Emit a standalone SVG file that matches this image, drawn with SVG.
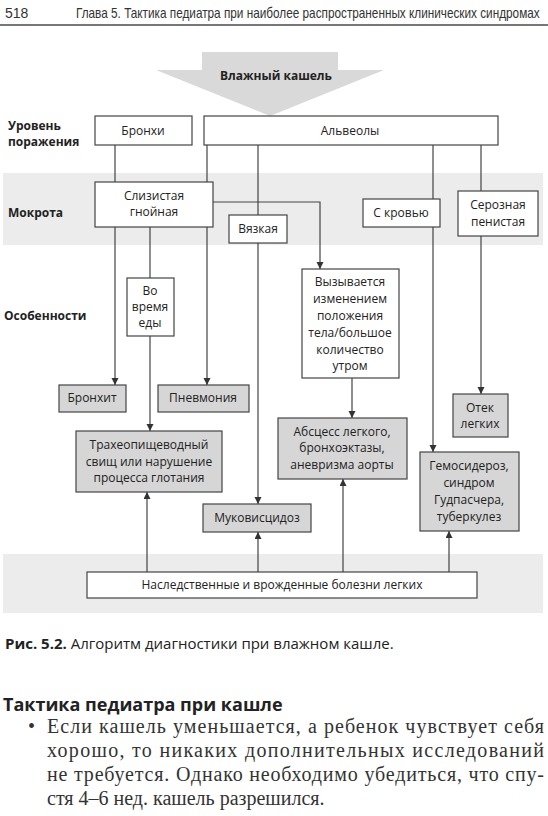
<svg xmlns="http://www.w3.org/2000/svg" width="548" height="816" viewBox="0 0 548 816">
<defs>
<marker id="ah" markerUnits="userSpaceOnUse" markerWidth="8" markerHeight="8" refX="7" refY="3.5" orient="auto">
<path d="M0,0 L7,3.5 L0,7 z" fill="#333"/>
</marker>
<style>
.box{fill:#fff;stroke:#444;stroke-width:1.2}
.gbox{fill:#d6d6d6;stroke:#444;stroke-width:1.2}
.band{fill:#ececec}
.t{font-family:"Open Sans","Liberation Sans",sans-serif;font-size:12px;fill:#222;text-anchor:middle}
.lbl{font-family:"Open Sans","Liberation Sans",sans-serif;font-size:12px;font-weight:bold;fill:#222}
.ln{stroke:#444;stroke-width:1.2;fill:none}
.ar{stroke:#444;stroke-width:1.2;fill:none;marker-end:url(#ah)}
</style>
</defs>
<rect width="548" height="816" fill="#fff"/>

<!-- header -->
<text x="5" y="18" font-family="Liberation Sans, sans-serif" font-size="14" fill="#333">518</text>
<text transform="translate(76,18) scale(0.84,1)" x="0" y="0" font-family="Liberation Sans, sans-serif" font-size="14" fill="#333" textLength="552" lengthAdjust="spacingAndGlyphs">Глава 5. Тактика педиатра при наиболее распространенных клинических синдромах</text>
<line x1="0" y1="25" x2="548" y2="25" stroke="#777" stroke-width="1.8"/>

<!-- bands -->
<rect class="band" x="3" y="173" width="540" height="72"/>
<rect class="band" x="3" y="554" width="540" height="59"/>

<!-- big arrow -->
<g id="start">
<polygon points="202,52 338,52 338,70 384,70 270,116 156,70 202,70" fill="#d9d9d9"/>
<text x="276" y="80" class="lbl" text-anchor="middle">Влажный кашель</text>
</g>

<!-- row labels -->
<g id="labels">
<text class="lbl" x="8" y="130">Уровень</text>
<text class="lbl" x="8" y="146">поражения</text>
<text class="lbl" x="8" y="217">Мокрота</text>
<text class="lbl" x="4" y="320">Особенности</text>
</g>

<!-- connectors -->
<g id="connectors">
<line class="ln" x1="115" y1="145" x2="115" y2="182"/>
<line class="ar" x1="115" y1="227" x2="115" y2="385"/>
<line class="ln" x1="150" y1="227" x2="150" y2="278"/>
<line class="ar" x1="150" y1="336" x2="150" y2="431"/>
<line class="ar" x1="207" y1="145" x2="207" y2="385"/>
<line class="ar" x1="258" y1="145" x2="258" y2="504"/>
<polyline class="ar" points="213,202 320,202 320,269"/>
<line class="ar" x1="352" y1="378" x2="352" y2="418"/>
<line class="ar" x1="433" y1="145" x2="433" y2="452"/>
<line class="ar" x1="481" y1="145" x2="481" y2="394"/>
<line class="ar" x1="147" y1="572" x2="147" y2="492"/>
<line class="ar" x1="258" y1="572" x2="258" y2="532"/>
<line class="ar" x1="343" y1="572" x2="343" y2="479"/>
<line class="ar" x1="449" y1="572" x2="449" y2="531"/>
</g>

<!-- nodes -->
<g id="bronchi"><rect class="box" x="95" y="116" width="97" height="29"/><text class="t" x="143" y="135">Бронхи</text></g>
<g id="alveoli"><rect class="box" x="204" y="116" width="294" height="29"/><text class="t" x="350" y="135">Альвеолы</text></g>
<g id="mucopurulent"><rect class="box" x="95" y="182" width="118" height="45"/><text class="t" x="154" y="200">Слизистая</text><text class="t" x="154" y="216">гнойная</text></g>
<g id="viscous"><rect class="box" x="229" y="215" width="58" height="28"/><text class="t" x="258" y="233">Вязкая</text></g>
<g id="bloody"><rect class="box" x="363" y="199" width="77" height="28"/><text class="t" x="401" y="217">С кровью</text></g>
<g id="serous"><rect class="box" x="458" y="191" width="80" height="45"/><text class="t" x="498" y="209">Серозная</text><text class="t" x="498" y="226">пенистая</text></g>
<g id="eating"><rect class="box" x="127" y="278" width="47" height="58"/><text class="t" x="150" y="295">Во</text><text class="t" x="150" y="311">время</text><text class="t" x="150" y="327">еды</text></g>
<g id="position"><rect class="box" x="302" y="269" width="97" height="109"/>
<text class="t" x="350" y="286">Вызывается</text><text class="t" x="350" y="303">изменением</text><text class="t" x="350" y="320">положения</text><text class="t" x="350" y="337">тела/большое</text><text class="t" x="350" y="354">количество</text><text class="t" x="350" y="370">утром</text></g>
<g id="bronchitis"><rect class="gbox" x="59" y="385" width="67" height="27"/><text class="t" x="92" y="402">Бронхит</text></g>
<g id="pneumonia"><rect class="gbox" x="158" y="385" width="91" height="27"/><text class="t" x="203" y="402">Пневмония</text></g>
<g id="tracheo"><rect class="gbox" x="76" y="431" width="146" height="61"/><text class="t" x="149" y="449">Трахеопищеводный</text><text class="t" x="149" y="466">свищ или нарушение</text><text class="t" x="149" y="482">процесса глотания</text></g>
<g id="abscess"><rect class="gbox" x="278" y="418" width="129" height="61"/><text class="t" x="342" y="436">Абсцесс легкого,</text><text class="t" x="342" y="452">бронхоэктазы,</text><text class="t" x="342" y="469">аневризма аорты</text></g>
<g id="edema"><rect class="gbox" x="453" y="394" width="55" height="43"/><text class="t" x="480" y="412">Отек</text><text class="t" x="480" y="428">легких</text></g>
<g id="cf"><rect class="gbox" x="203" y="504" width="108" height="28"/><text class="t" x="257" y="522">Муковисцидоз</text></g>
<g id="hemosiderosis"><rect class="gbox" x="420" y="452" width="99" height="79"/><text class="t" x="469" y="470">Гемосидероз,</text><text class="t" x="469" y="487">синдром</text><text class="t" x="469" y="504">Гудпасчера,</text><text class="t" x="469" y="521">туберкулез</text></g>
<g id="hereditary"><rect class="box" x="87" y="572" width="390" height="26"/><text class="t" x="282" y="589">Наследственные и врожденные болезни легких</text></g>

<!-- caption -->
<text x="5" y="649" font-family="Open Sans, Liberation Sans, sans-serif" font-size="15" fill="#222"><tspan font-weight="bold">Рис. 5.2.</tspan> Алгоритм диагностики при влажном кашле.</text>

<text x="3" y="711" font-family="Open Sans, Liberation Sans, sans-serif" font-size="18" font-weight="bold" fill="#222">Тактика педиатра при кашле</text>
<g font-family="Liberation Serif, Times New Roman, serif" font-size="20" fill="#333">
<text x="28" y="733">•</text>
<text x="47" y="733" textLength="497" lengthAdjust="spacing">Если кашель уменьшается, а ребенок чувствует себя</text>
<text x="47" y="757" textLength="497" lengthAdjust="spacing">хорошо, то никаких дополнительных исследований</text>
<text x="47" y="781" textLength="497" lengthAdjust="spacing">не требуется. Однако необходимо убедиться, что спу-</text>
<text x="47" y="805">стя 4–6 нед. кашель разрешился.</text>
</g>
</svg>
